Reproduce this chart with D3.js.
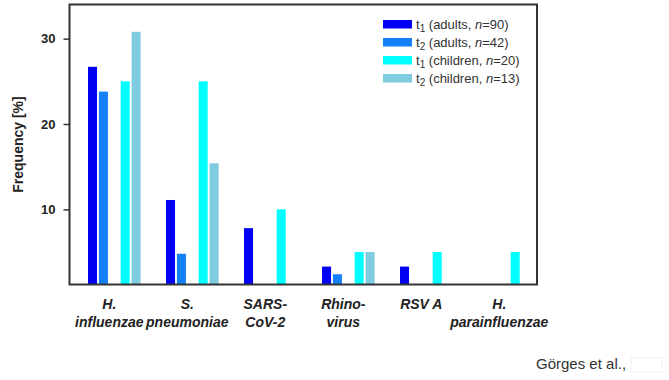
<!DOCTYPE html>
<html>
<head>
<meta charset="utf-8">
<script src="https://cdn.jsdelivr.net/npm/d3@7"></script>
<style>
  html, body { margin: 0; padding: 0; background: #fff; }
  svg { display: block; font-family: "Liberation Sans", Arial, sans-serif; }
</style>
</head>
<body>
<svg id="chart" width="669" height="380"></svg>
<script>
// ---- data ----
const categories = ["H. influenzae", "S. pneumoniae", "SARS-CoV-2", "Rhinovirus", "RSV A", "H. parainfluenzae"];
const categoryLines = [["H.", "influenzae"], ["S.", "pneumoniae"], ["SARS-", "CoV-2"], ["Rhino-", "virus"], ["RSV A"], ["H.", "parainfluenzae"]];
const seriesKeys = ["t1a", "t2a", "t1c", "t2c"];
const seriesLabelMain = ["t", "t", "t", "t"];
const seriesLabelSub = ["1", "2", "1", "2"];
const seriesLabelRest = [" (adults, ", " (adults, ", " (children, ", " (children, "];
const seriesN = ["90", "42", "20", "13"];
const seriesColors = ["#0000f5", "#1480f8", "#00ffff", "#7fcce0"];
const t1Adults   = [26.7, 11.1, 7.8, 3.3, 3.3, 0];
const t2Adults   = [23.8, 4.8, 0, 2.4, 0, 0];
const t1Children = [25.0, 25.0, 10.0, 5.0, 5.0, 5.0];
const t2Children = [30.8, 15.4, 0, 5.0, 0, 0];
const yTicks = [10, 20, 30];
const yDomain = [1.2, 34];

const seriesValues = [t1Adults, t2Adults, t1Children, t2Children];
const slots = ["t1a", "t2a", "gap", "t1c", "t2c"];

// ---- layout ----
const svg = d3.select("#chart");
const plot = { left: 69.5, right: 537, top: 4.5, bottom: 284.5 };

const x0 = d3.scaleBand()
  .domain(categories)
  .range([88, 88 + 6 * 78 - 25.4])
  .paddingInner(0.326)
  .paddingOuter(0);

const x1 = d3.scaleBand()
  .domain(slots)
  .range([0, x0.bandwidth()])
  .paddingInner(0.17)
  .paddingOuter(0);

const y = d3.scaleLinear().domain(yDomain).range([plot.bottom, plot.top]);

// bars
const g = svg.append("g");
categories.forEach((cat, ci) => {
  seriesKeys.forEach((key, si) => {
    const v = seriesValues[si][ci];
    if (!v) return;
    g.append("rect")
      .attr("x", x0(cat) + x1(key))
      .attr("width", x1.bandwidth())
      .attr("y", y(v))
      .attr("height", plot.bottom - y(v))
      .attr("fill", seriesColors[si]);
  });
});

// frame
svg.append("rect")
  .attr("x", plot.left).attr("y", plot.top)
  .attr("width", plot.right - plot.left)
  .attr("height", plot.bottom - plot.top)
  .attr("fill", "none")
  .attr("stroke", "#333")
  .attr("stroke-width", 2);

// y axis
const yAxis = d3.axisLeft(y).tickValues(yTicks).tickSize(6).tickPadding(8);
const ya = svg.append("g").attr("transform", `translate(${plot.left},0)`).call(yAxis);
ya.select(".domain").remove();
ya.selectAll(".tick line").attr("stroke", "#333").attr("stroke-width", 1.5);
ya.selectAll(".tick text")
  .attr("font-family", "Liberation Sans, Arial, sans-serif")
  .attr("font-size", 13).attr("font-weight", "bold").attr("fill", "#222");

// y axis title
svg.append("text")
  .attr("transform", `translate(23,${(plot.top + plot.bottom) / 2}) rotate(-90)`)
  .attr("text-anchor", "middle")
  .attr("font-size", 14).attr("font-weight", "bold").attr("fill", "#222")
  .text("Frequency [%]");

// x category labels
categories.forEach((cat, ci) => {
  const cx = x0(cat) + x0.bandwidth() / 2 - 5;
  const t = svg.append("text")
    .attr("text-anchor", "middle")
    .attr("font-size", 14).attr("font-weight", "bold").attr("font-style", "italic")
    .attr("fill", "#222");
  categoryLines[ci].forEach((line, li) => {
    t.append("tspan").attr("x", cx).attr("y", 308.5 + li * 18.5).text(line);
  });
});

// legend
const legend = svg.append("g");
seriesKeys.forEach((key, i) => {
  const yy = 20 + i * 18;
  legend.append("rect")
    .attr("x", 383).attr("y", yy).attr("width", 29).attr("height", 8.5)
    .attr("fill", seriesColors[i]);
  const t = legend.append("text")
    .attr("x", 416).attr("y", yy + 9)
    .attr("font-size", 13).attr("fill", "#333");
  t.append("tspan").text(seriesLabelMain[i]);
  t.append("tspan").attr("font-size", 10).attr("dy", 3).text(seriesLabelSub[i]);
  t.append("tspan").attr("dy", -3).text(seriesLabelRest[i]);
  t.append("tspan").attr("font-style", "italic").text("n");
  t.append("tspan").text("=" + seriesN[i] + ")");
});

// citation
svg.append("text")
  .attr("x", 536).attr("y", 369)
  .attr("font-size", 15).attr("fill", "#333")
  .text("Görges et al.,");
svg.append("rect")
  .attr("x", 631).attr("y", 358).attr("width", 31).attr("height", 14)
  .attr("fill", "none").attr("stroke", "#f0f0f0").attr("stroke-width", 1);
</script>
</body>
</html>
